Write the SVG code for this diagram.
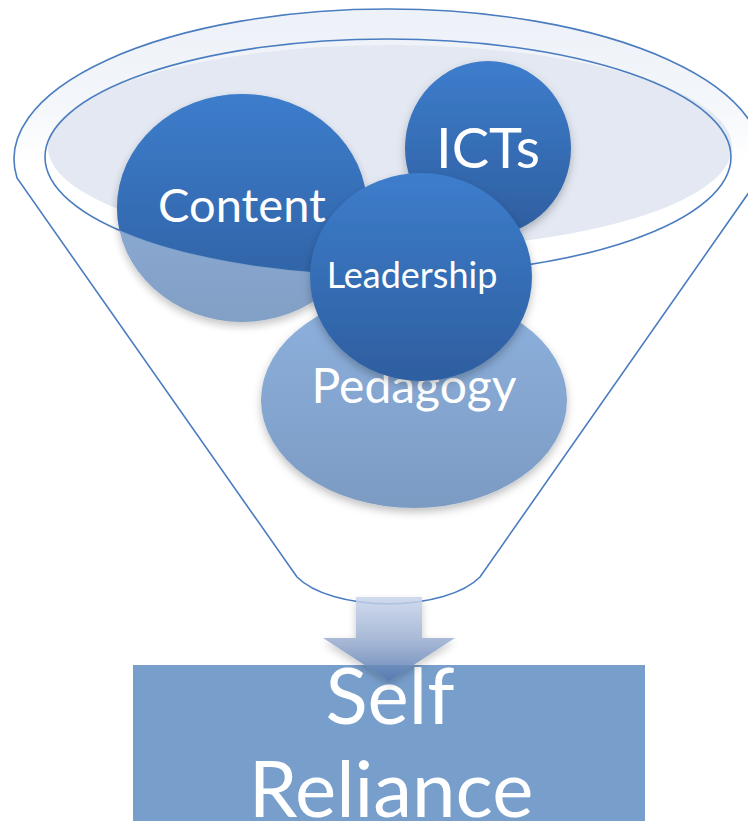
<svg xmlns="http://www.w3.org/2000/svg" width="748" height="821" viewBox="0 0 748 821">
  <style>
    .lbl { font-family: Lato, "Open Sans", "DejaVu Sans", sans-serif; fill: #ffffff; text-anchor: middle; }
    .rim { fill: none; stroke: #4A7CC0; stroke-width: 1.6; }
  </style>
  <defs>
    <linearGradient id="gDark" x1="0" y1="0" x2="0" y2="1">
      <stop offset="0" stop-color="#3D7DCC"/>
      <stop offset="1" stop-color="#2E5E9F"/>
    </linearGradient>
    <linearGradient id="gLight" x1="0" y1="0" x2="0" y2="1">
      <stop offset="0" stop-color="#8DB1DE"/>
      <stop offset="1" stop-color="#7C9BC3"/>
    </linearGradient>
    <linearGradient id="gRim" x1="0" y1="0" x2="0" y2="1">
      <stop offset="0" stop-color="#EDF1F8"/>
      <stop offset="0.3" stop-color="#F3F6FA"/>
      <stop offset="0.5" stop-color="#FFFFFF"/>
      <stop offset="1" stop-color="#FFFFFF"/>
    </linearGradient>
    <linearGradient id="gArrow" x1="0" y1="597" x2="0" y2="682" gradientUnits="userSpaceOnUse">
      <stop offset="0" stop-color="#C9D5EB"/>
      <stop offset="0.5" stop-color="#9AAED0"/>
      <stop offset="1" stop-color="#4E73AC"/>
    </linearGradient>
    <clipPath id="innerClip">
      <ellipse cx="388" cy="157" rx="343" ry="118"/>
    </clipPath>
    <filter id="sh" x="-20%" y="-20%" width="140%" height="150%">
      <feDropShadow dx="0" dy="4" stdDeviation="4" flood-color="#000000" flood-opacity="0.25"/>
    </filter>
  </defs>

  <g id="funnel">
    <ellipse cx="388" cy="160" rx="374" ry="150" fill="url(#gRim)"/>
    <path class="rim" d="M17 178 A374 150 0 1 1 759 178 L480 577 A100 45 0 0 1 297 577 Z"/>
    <ellipse cx="390" cy="147" rx="342" ry="102" fill="#E3E8F2"/>
    <ellipse class="rim" cx="388" cy="157" rx="343" ry="118"/>
  </g>

  <g id="content">
    <ellipse cx="242" cy="208" rx="125" ry="114" fill="url(#gLight)" opacity="0.95" filter="url(#sh)"/>
    <ellipse cx="242" cy="208" rx="125" ry="114" fill="url(#gDark)" clip-path="url(#innerClip)"/>
    <text class="lbl" x="242" y="222" font-size="47">Content</text>
  </g>

  <g id="icts">
    <ellipse cx="488" cy="148" rx="83" ry="87" fill="url(#gDark)" filter="url(#sh)"/>
    <text class="lbl" x="488" y="168" font-size="56">ICTs</text>
  </g>

  <g id="pedagogy">
    <ellipse cx="414" cy="400" rx="153" ry="108" fill="url(#gLight)" filter="url(#sh)"/>
    <text class="lbl" x="414" y="403" font-size="48">Pedagogy</text>
  </g>

  <g id="leadership">
    <ellipse cx="421" cy="277" rx="111" ry="104" fill="url(#gDark)" filter="url(#sh)"/>
    <text class="lbl" x="412" y="288" font-size="36">Leadership</text>
  </g>

  <g id="self-reliance">
    <rect x="133" y="665" width="512" height="160" fill="#789FCC"/>
    <text class="lbl" x="390" y="724" font-size="78">Self</text>
    <text class="lbl" x="391" y="817" font-size="78">Reliance</text>
  </g>

  <g id="connectors">
    <path d="M356 597 H422 V638 H455 L389 681 L323 638 H356 Z" fill="url(#gArrow)" opacity="0.85" filter="url(#sh)"/>
  </g>
</svg>
